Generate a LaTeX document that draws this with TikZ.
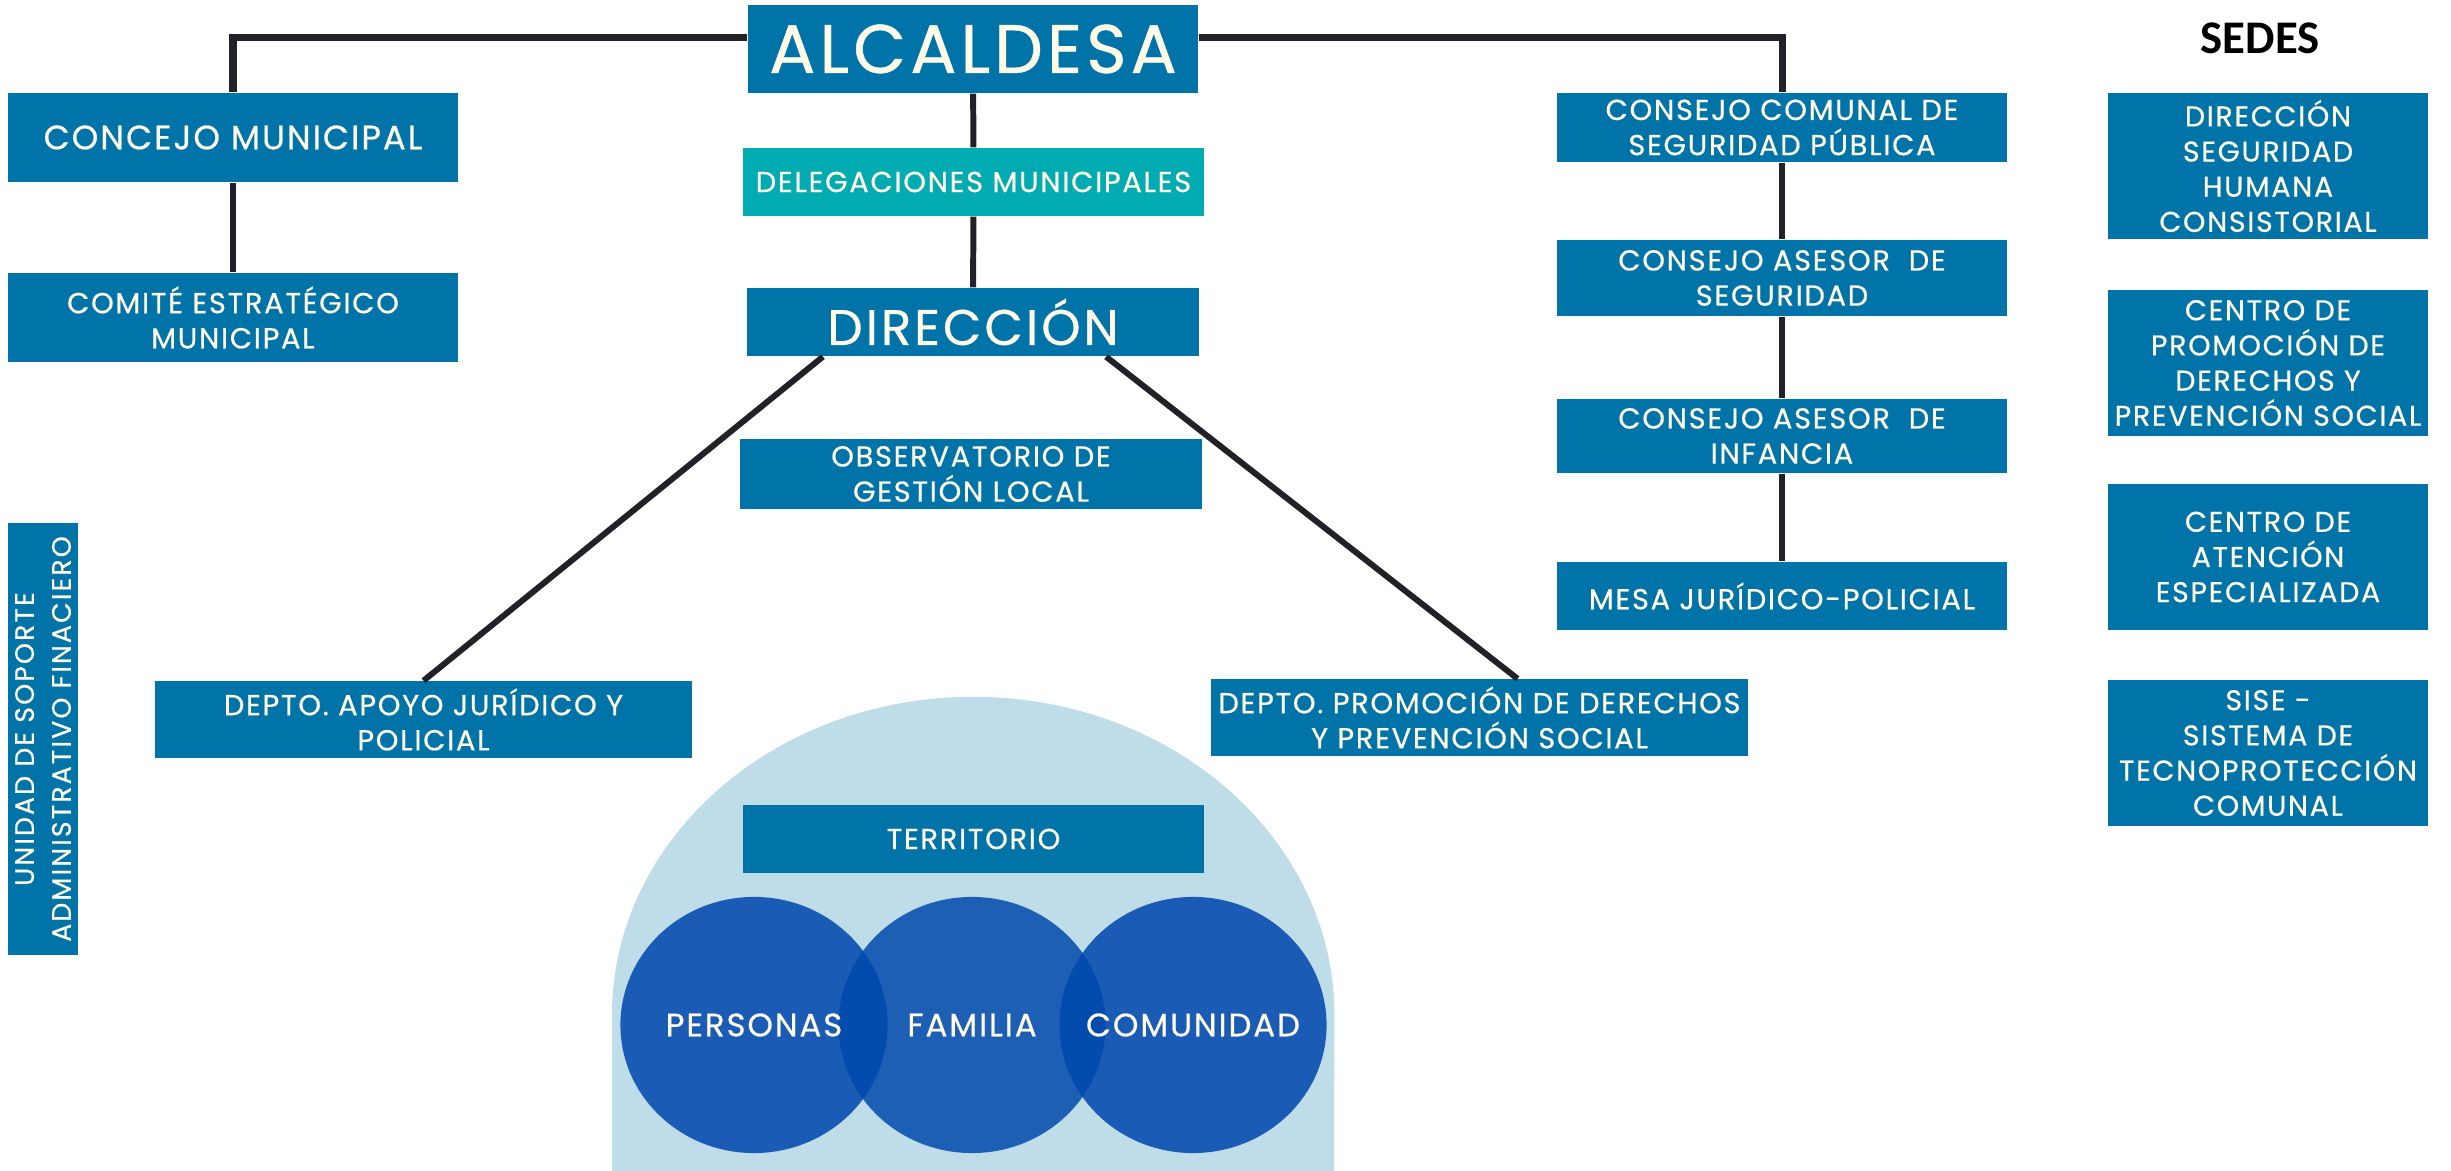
\documentclass[tikz,border=0pt]{standalone}
\usepackage{fontspec}
\setmainfont{Poppins}[LetterSpace=6, FakeBold=0.6]
\newfontfamily\sedesfont{Carlito}
\newfontfamily\spacedfont{Poppins}[LetterSpace=8, FakeBold=0.6]
\usepackage{tikz}
\usetikzlibrary{shapes.geometric}

\definecolor{boxblue}{HTML}{0074A8}
\definecolor{tealbox}{HTML}{00ABB2}
\definecolor{archblue}{HTML}{BFDCE9}
\definecolor{ringblue}{HTML}{0048AD}
\definecolor{cream}{HTML}{FFFBE6}
\definecolor{linegray}{HTML}{222028}

\tikzset{
  box/.style={rectangle, fill=boxblue, text=cream, align=center, inner sep=2pt,
    font=\fontsize{8.2}{10}\selectfont},
  wide/.style={minimum width=4.5cm},
  sede/.style={box, minimum width=3.2cm, minimum height=1.46cm, inner xsep=0pt,
    font=\fontsize{8.1}{10}\selectfont},
  ring/.style={ellipse, minimum width=2.67cm, minimum height=2.56cm, inner sep=-1cm,
    fill=ringblue, fill opacity=0.86, text opacity=1, text=cream,
    font=\fontsize{9.2}{10}\selectfont},
  link/.style={draw=linegray, line width=1.7pt},
}

\begin{document}
\begin{tikzpicture}[x=0.01cm, y=-0.01cm]
    \useasboundingbox (0,0) rectangle (2451,1171);

    % Territory arch with the three circles
    \fill[archblue] (612,1171) -- (612,1015)
        arc[start angle=180, end angle=0, x radius=3.61cm, y radius=3.18cm]
        -- (1334,1171) -- cycle;
    \node[box, minimum width=4.61cm, minimum height=0.68cm] (territorio) at (973.5,839) {TERRITORIO};
    \node[ring, fill opacity=0.84] (familia) at (972,1025) {FAMILIA};
    \node[ring] (personas) at (754,1025) {PERSONAS};
    \node[ring] (comunidad) at (1193,1025) {COMUNIDAD};

    % Central column
    \node[box, wide, minimum height=0.88cm, font=\fontsize{19.5}{20}\selectfont] (alcaldesa) at (973,49) {ALCALDESA};
    \node[box, minimum width=4.61cm, minimum height=0.68cm, fill=tealbox] (delegaciones) at (973.5,182) {DELEGACIONES MUNICIPALES};
    \node[box, minimum width=4.51cm, minimum height=0.68cm, font=\fontsize{14.2}{14}\selectfont] (direccion) at (973,322) {DIRECCIÓN};
    \node[box, minimum width=4.62cm, minimum height=0.68cm] (observatorio) at (971,474) {OBSERVATORIO DE\\GESTIÓN LOCAL};

    % Left column
    \node[box, wide, minimum height=0.89cm, font=\fontsize{9.6}{11}\selectfont] (concejo) at (233,137.5) {CONCEJO MUNICIPAL};
    \node[box, wide, minimum height=0.89cm] (comite) at (233,317.5) {COMITÉ ESTRATÉGICO\\MUNICIPAL};
    \node[box, rotate=90, minimum width=4.32cm, minimum height=0.7cm,
        font=\spacedfont\fontsize{7.6}{10.5}\selectfont] (unidad) at (43,739) {UNIDAD DE SOPORTE\\ADMINISTRATIVO FINACIERO};

    % Departments
    \node[box, minimum width=5.37cm, minimum height=0.71cm] (apoyo) at (423.5,719.5) {DEPTO. APOYO JURÍDICO Y\\POLICIAL};
    \node[box, minimum width=5.37cm, minimum height=0.71cm] (promocion) at (1479.5,717.5) {DEPTO. PROMOCIÓN DE DERECHOS\\Y PREVENCIÓN SOCIAL};

    % Right column: councils
    \node[box, wide, minimum height=0.69cm] (comunal) at (1782,127.5) {CONSEJO COMUNAL DE\\SEGURIDAD PÚBLICA};
    \node[box, wide, minimum height=0.76cm] (asesorseg) at (1782,278) {CONSEJO ASESOR~ DE\\SEGURIDAD};
    \node[box, wide, minimum height=0.74cm] (asesorinf) at (1782,436) {CONSEJO ASESOR~ DE\\INFANCIA};
    \node[box, wide, minimum height=0.68cm] (mesa) at (1782,596) {MESA JURÍDICO-POLICIAL};

    % Sedes
    \node[font=\sedesfont\bfseries\fontsize{13.3}{16}\selectfont] (sedes) at (2260,38) {SEDES};
    \node[sede] (sedeA) at (2268,166) {DIRECCIÓN\\SEGURIDAD\\HUMANA\\CONSISTORIAL};
    \node[sede] (sedeB) at (2268,363) {CENTRO DE\\PROMOCIÓN DE\\DERECHOS Y\\PREVENCIÓN SOCIAL};
    \node[sede] (sedeC) at (2268,557) {CENTRO DE\\ATENCIÓN\\ESPECIALIZADA};
    \node[sede] (sedeD) at (2268,753) {SISE -\\SISTEMA DE\\TECNOPROTECCIÓN\\COMUNAL};

    % Connectors
    \draw[link, line width=2pt] ([yshift=1.1mm]alcaldesa.west) -| (concejo.north);
    \draw[link, line width=2pt] ([yshift=1.1mm]alcaldesa.east) -| (comunal.north);
    \draw[link] (concejo) -- (comite);
    \draw[link] (alcaldesa) -- (delegaciones);
    \draw[link] (delegaciones) -- (direccion);
    \draw[link] ([xshift=-1.5cm]direccion.south) -- (apoyo.north);
    \draw[link] ([xshift=1.33cm]direccion.south) -- ([xshift=0.38cm]promocion.north);
    \draw[link] (comunal) -- (asesorseg);
    \draw[link] (asesorseg) -- (asesorinf);
    \draw[link] (asesorinf) -- (mesa);
\end{tikzpicture}
\end{document}
